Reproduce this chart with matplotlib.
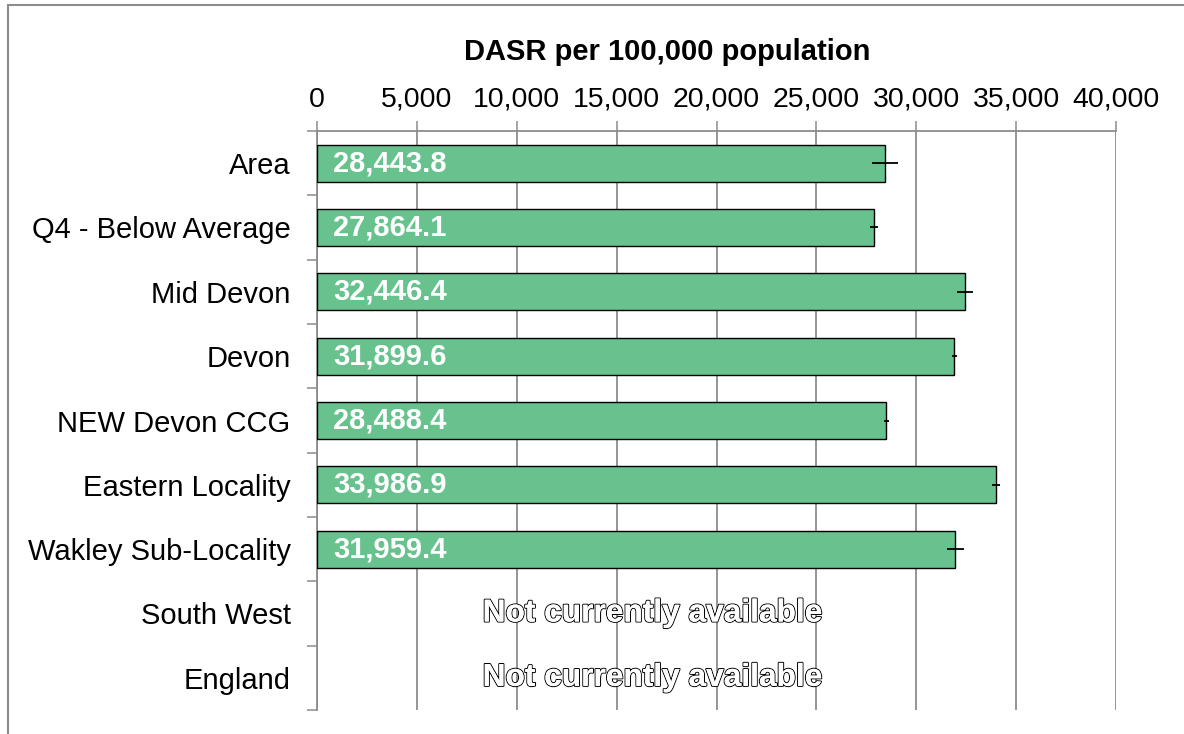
import numpy as np
import matplotlib.pyplot as plt
from matplotlib import patheffects
from matplotlib.patches import Rectangle
from matplotlib.ticker import FuncFormatter

plt.rcParams['font.family'] = ['Liberation Sans', 'DejaVu Sans']

# data
areas = ["Area", "Q4 - Below Average", "Mid Devon", "Devon", "NEW Devon CCG",
         "Eastern Locality", "Wakley Sub-Locality", "South West", "England"]
values = [28443.8, 27864.1, 32446.4, 31899.6, 28488.4, 33986.9, 31959.4, np.nan, np.nan]
lower_ci = [27770, 27670, 32055, 31770, 28370, 33805, 31555, np.nan, np.nan]
upper_ci = [29070, 28070, 32835, 32035, 28620, 34185, 32370, np.nan, np.nan]
na_text = "Not currently available"

grey = "#8c8c8c"
bar_col = "#67c28e"

fig = plt.figure(figsize=(11.84, 7.34), dpi=100)
ax = fig.add_axes([317/1184, 1 - 710/734, (1116 - 317)/1184, (710 - 131)/734])

y = np.arange(len(areas))
vals = np.array(values)
drawn = ~np.isnan(vals)
ax.barh(y[drawn], vals[drawn], height=0.58, color=bar_col, edgecolor="black",
        linewidth=1.0, zorder=3)

lo = np.array(lower_ci)
hi = np.array(upper_ci)
ax.hlines(y[drawn], lo[drawn], hi[drawn], color="black", linewidth=1.3, zorder=4)

for yi, v in zip(y, vals):
    if np.isnan(v):
        t = ax.text(16800, yi, na_text, ha="center", va="center", fontsize=22.8,
                    fontweight="bold", color="white", zorder=5)
        t.set_path_effects([patheffects.withStroke(linewidth=1.5, foreground="black"),
                            patheffects.Normal()])
    else:
        ax.text(800, yi, f"{v:,.1f}", ha="left", va="center", fontsize=21,
                color="white", fontweight="bold", zorder=5)

ax.set_xlim(0, 40000)
ax.set_ylim(len(areas) - 0.5, -0.5)
ax.set_xticks(np.arange(0, 40001, 5000))
ax.xaxis.set_major_formatter(FuncFormatter(lambda x, p: f"{int(x):,}"))
ax.xaxis.tick_top()
ax.tick_params(axis="x", direction="out", length=7, width=1.1, color=grey,
               labelsize=20.5, pad=6)

ax.set_yticks(y)
ax.set_yticklabels(areas)
ax.set_yticks(np.arange(-0.5, len(areas)), minor=True)
ax.tick_params(axis="y", which="major", length=0, labelsize=21, pad=19)
ax.tick_params(axis="y", which="minor", direction="out", length=7, width=1.1, color=grey)

ax.grid(axis="x", color=grey, linewidth=1.3, zorder=0)
ax.set_axisbelow(True)
for s in ["right", "bottom"]:
    ax.spines[s].set_visible(False)
for s in ["top", "left"]:
    ax.spines[s].set_color(grey)
    ax.spines[s].set_linewidth(1.3)

fig.text(667/1184, 1 - 52/734, "DASR per 100,000 population", ha="center", va="center",
         fontsize=21, fontweight="bold")

# outer chart border, cut off at right and bottom
fig.patches.append(Rectangle((8/1184, -0.05), 1.1, 1 - 5/734 + 0.05,
                             transform=fig.transFigure, fill=False,
                             edgecolor=grey, linewidth=1.5))

fig.savefig("out.png", dpi=100)
